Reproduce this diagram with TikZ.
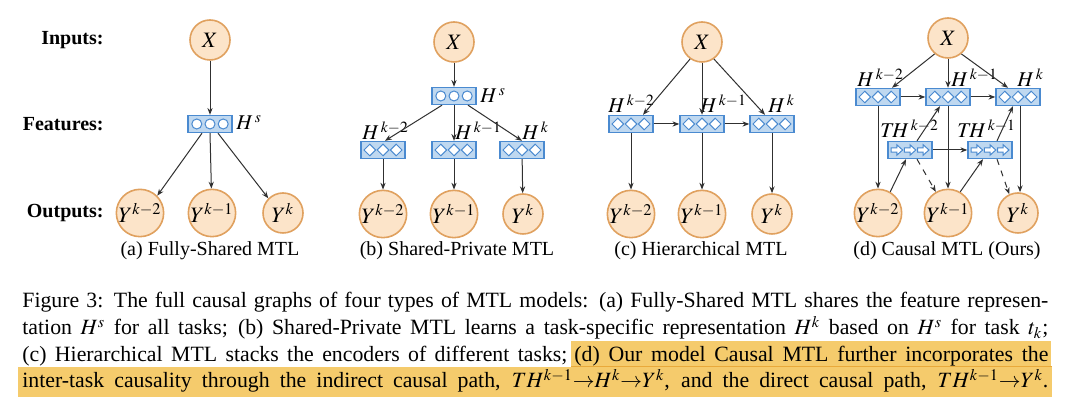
\documentclass[tikz,border=0pt]{standalone}
\usepackage{mathptmx}
\usepackage[no-math]{fontspec}
\setmainfont{Liberation Serif}
\usetikzlibrary{arrows.meta}

\definecolor{varfill}{HTML}{FCE4C9}
\definecolor{varline}{HTML}{E0A15F}
\definecolor{encfill}{HTML}{BFD8F0}
\definecolor{encline}{HTML}{4A8AD0}
\definecolor{arrcol}{HTML}{303030}
\definecolor{hl}{HTML}{F5CB6C}
\definecolor{hldark}{HTML}{E9A93A}

\tikzset{
  var/.style={circle, draw=varline, fill=varfill, line width=0.8pt, minimum size=20pt, inner sep=0pt, font=\fontsize{11}{12}\selectfont},
  enc/.style={rectangle, draw=encline, fill=encfill, line width=0.7pt, minimum width=22pt, minimum height=8.5pt, inner sep=0pt},
  glyph/.style={draw=encline, fill=white, line width=0.5pt},
  dots/.style={enc, path picture={\foreach \i in {-1,0,1}
      \draw[glyph] ([xshift=\i*6.6pt]path picture bounding box.center) circle (2.5pt);}},
  diams/.style={enc, path picture={\foreach \i in {-1,0,1}
      \draw[glyph] ([xshift=\i*6.6pt]path picture bounding box.center) +(0pt,2.9pt) -- +(2.9pt,0pt) -- +(0pt,-2.9pt) -- +(-2.9pt,0pt) -- cycle;}},
  blocks/.style={enc, path picture={\foreach \i in {-1,0,1}
      \draw[glyph] ([xshift=\i*6.6pt]path picture bounding box.center) +(-2.8pt,1.1pt) -- +(0pt,1.1pt) -- +(0pt,2.6pt) -- +(2.9pt,0pt) -- +(0pt,-2.6pt) -- +(0pt,-1.1pt) -- +(-2.8pt,-1.1pt) -- cycle;}},
  arr/.style={-{Stealth[length=3.4pt,width=2.6pt]}, line width=0.5pt, draw=arrcol},
  lbl/.style={anchor=base west, inner sep=0pt, font=\fontsize{10.5}{12}\selectfont},
  row/.style={anchor=east, inner sep=0pt, font=\bfseries},
  sub/.style={anchor=base, inner sep=0pt},
  capline/.style={anchor=base west, inner ysep=0pt, inner xsep=0pt, text height=10.5pt, text depth=4.5pt, font=\fontsize{10.9}{13}\selectfont}
}

\begin{document}
\begin{tikzpicture}[x=0.5pt,y=-0.5pt]
\path[use as bounding box, fill=white] (0,0) rectangle (1080,415);

\node[row] (tin) at (104,40) {Inputs:};
\node[row] (tfeat) at (104,124) {Features:};
\node[row] (tout) at (104,213) {Outputs:};

% (a) fully shared
\node[var] (xa) at (210,40) {$X$};
\node[dots] (hsa) at (210,124) {};
\node[lbl] (hsalbl) at (236,130) {$H^{\,s}$};
\node[var] (ya1) at (140,213) {$Y^{k-2}$};
\node[var] (ya2) at (212,213) {$Y^{k-1}$};
\node[var] (ya3) at (283,213) {$Y^{k}$};

\draw[arr] (xa) -- (hsa);
\draw[arr] ([xshift=-4pt]hsa.south) -- (ya1.45);
\draw[arr] (hsa.south) -- (ya2);
\draw[arr] ([xshift=4pt]hsa.south) -- (ya3.135);

\node[sub] (suba) at (210,256) {(a) Fully-Shared MTL};

% (b) shared-private
\node[var] (xb) at (454,42) {$X$};
\node[dots] (hsb) at (454,96) {};
\node[lbl] (hsblbl) at (480,103) {$H^{\,s}$};
\node[diams] (hb1) at (383,150) {};
\node[diams] (hb2) at (454,150) {};
\node[diams] (hb3) at (522,150) {};
\node[lbl] (hb1lbl) at (362,140) {$H^{\,k-2}$};
\node[lbl] (hb2lbl) at (455,140) {$H^{\,k-1}$};
\node[lbl] (hb3lbl) at (522,140) {$H^{\,k}$};
\node[var] (yb1) at (383,214) {$Y^{k-2}$};
\node[var] (yb2) at (454,214) {$Y^{k-1}$};
\node[var] (yb3) at (523,214) {$Y^{k}$};

\draw[arr] (xb) -- (hsb);
\draw[arr] ([xshift=-6pt]hsb.south) -- ([xshift=1pt]hb1.north);
\draw[arr] (hsb) -- (hb2);
\draw[arr] ([xshift=7pt]hsb.south) -- (hb3.north);
\draw[arr] (hb1) -- (yb1);
\draw[arr] (hb2) -- (yb2);
\draw[arr] (hb3) -- (yb3);

\node[sub] (subb) at (457,256) {(b) Shared-Private MTL};

% (c) hierarchical
\node[var] (xc) at (702,42) {$X$};
\node[diams] (hc1) at (631,124) {};
\node[diams] (hc2) at (702,124) {};
\node[diams] (hc3) at (772,124) {};
\node[lbl] (hc1lbl) at (608,113) {$H^{\,k-2}$};
\node[lbl] (hc2lbl) at (700,113) {$H^{\,k-1}$};
\node[lbl] (hc3lbl) at (768,113) {$H^{\,k}$};
\node[var] (yc1) at (631,214) {$Y^{k-2}$};
\node[var] (yc2) at (702,214) {$Y^{k-1}$};
\node[var] (yc3) at (772,214) {$Y^{k}$};

\draw[arr] (xc.235) -- ([xshift=6pt]hc1.north);
\draw[arr] (xc) -- (hc2);
\draw[arr] (xc.305) -- ([xshift=-3.5pt]hc3.north);
\draw[arr] (hc1) -- (hc2);
\draw[arr] (hc2) -- (hc3);
\draw[arr] (hc1) -- (yc1);
\draw[arr] (hc2) -- (yc2);
\draw[arr] (hc3) -- (yc3);

\node[sub] (subc) at (701,256) {(c) Hierarchical MTL};

% (d) causal
\node[var] (xd) at (948,38) {$X$};
\node[diams] (hd1) at (878,97) {};
\node[diams] (hd2) at (948,97) {};
\node[diams] (hd3) at (1018,97) {};
\node[lbl] (hd1lbl) at (857,87) {$H^{\,k-2}$};
\node[lbl] (hd2lbl) at (951,87) {$H^{\,k-1}$};
\node[lbl] (hd3lbl) at (1017,87) {$H^{\,k}$};
\node[blocks] (td1) at (910,150) {};
\node[blocks] (td2) at (990,150) {};
\node[lbl] (td1lbl) at (880,138) {$T\!H^{\,k-2}$};
\node[lbl] (td2lbl) at (957,138) {$T\!H^{\,k-1}$};
\node[var] (yd1) at (878,213) {$Y^{k-2}$};
\node[var] (yd2) at (948,213) {$Y^{k-1}$};
\node[var] (yd3) at (1018,213) {$Y^{k}$};

\draw[arr] (xd.230) -- ([xshift=7pt]hd1.north);
\draw[arr] (xd) -- (hd2);
\draw[arr] (xd.310) -- ([xshift=-5pt]hd3.north);
\draw[arr] (hd1) -- (hd2);
\draw[arr] (hd2) -- (hd3);
\draw[arr] (hd1) -- (yd1);
\draw[arr] (hd2) -- (yd2);
\draw[arr] ([xshift=1pt]hd3.south) -- ([xshift=1pt]yd3.north);
\draw[arr] (td1) -- (td2);
\draw[arr] ([xshift=3.5pt]td1.north) -- ([xshift=-4pt]hd2.south);
\draw[arr] ([xshift=3.5pt]td2.north) -- ([xshift=-2.5pt]hd3.south);
\draw[arr] (yd1.60) -- ([xshift=-2pt]td1.south);
\draw[arr] (yd2.60) -- ([xshift=-3.5pt]td2.south);
\draw[arr, dashed] ([xshift=3.5pt]td1.south) -- (yd2.120);
\draw[arr, dashed] ([xshift=3.5pt]td2.south) -- (yd3.115);

\node[sub] (subd) at (947,256) {(d) Causal MTL (Ours)};

% caption
\node[capline] (cap1) at (22,308) {\makebox[513pt][s]{Figure 3: The full causal graphs of four types of MTL models: (a) Fully-Shared MTL shares the feature represen-}};
\node[capline] (cap2) at (22,335) {\makebox[513pt][s]{tation $H^s$ for all tasks; (b) Shared-Private MTL learns a task-specific representation $H^k$ based on $H^s$ for task $t_k$;}};
\node[capline] (cap3a) at (22,362) {\makebox[272.5pt][s]{(c) Hierarchical MTL stacks the encoders of different tasks;}};
\node[capline, fill=hl, inner xsep=1.5pt] (cap3b) at (571,362) {\makebox[237pt][s]{(d) Our model Causal MTL further incorporates the}};
\node[capline, fill=hl, inner xsep=2pt] (cap4) at (18,388) {\makebox[513pt][s]{inter-task causality through the indirect causal path, $TH^{k-1}{\rightarrow}H^k{\rightarrow}Y^k$, and the direct causal path, $TH^{k-1}{\rightarrow}Y^k$.}};
\draw[hldark, line width=0.8pt] (cap3b.south west |- cap4.north) -- (cap3b.south east |- cap4.north);

\end{tikzpicture}
\end{document}
